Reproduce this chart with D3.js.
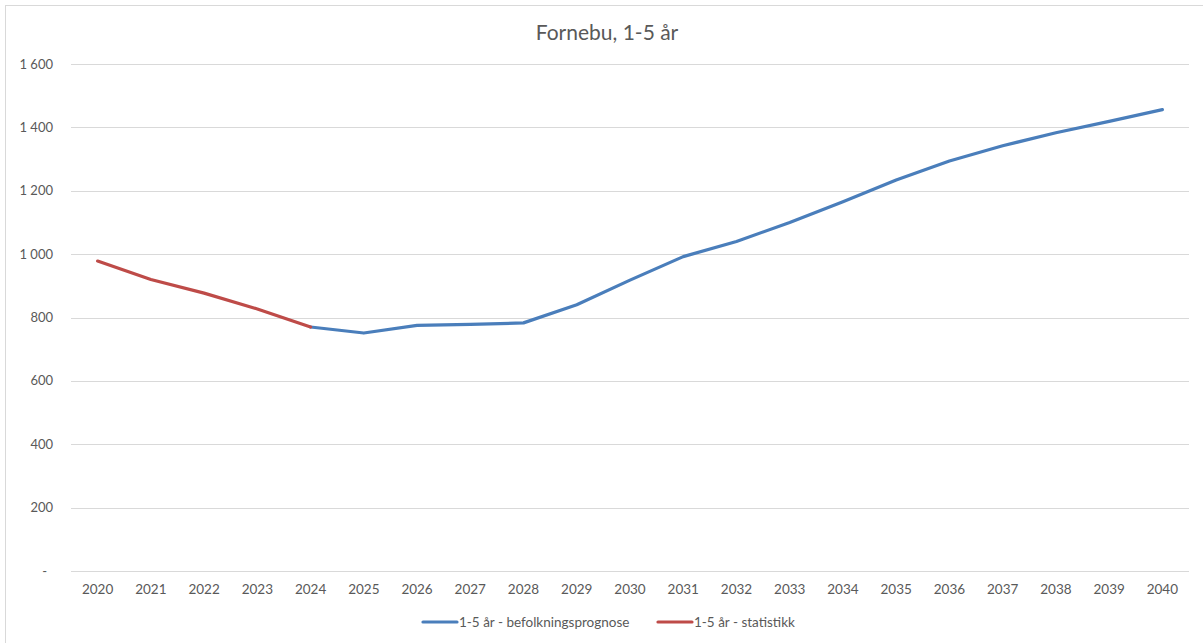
<!DOCTYPE html>
<html>
<head>
<meta charset="utf-8">
<script src="https://cdn.jsdelivr.net/npm/d3@7"></script>
<style>
  body { margin: 0; background: #fff; }
  svg text { font-family: Lato, "Open Sans", sans-serif; fill: #595959; }
</style>
</head>
<body>
<div id="chart"></div>
<script>
// categories (years)
var years = ["2020","2021","2022","2023","2024","2025","2026","2027","2028","2029","2030",
             "2031","2032","2033","2034","2035","2036","2037","2038","2039","2040"];
// prognosis series (blue), starts at 2024
var prognose = [null,null,null,null,770,751,775,778,783,840,918,
                992,1040,1100,1165,1234,1294,1342,1383,1419,1456];
// statistics series (red), 2020-2024
var statistikk = [978,920,877,827,770,null,null,null,null,null,null,
                  null,null,null,null,null,null,null,null,null,null];
var yTicks = [0,200,400,600,800,1000,1200,1400,1600];
var seriesNames = ["1-5 år - befolkningsprognose", "1-5 år - statistikk"];
var seriesColors = ["#4A7EBB", "#BE4B48"];

var W = 1203, H = 643;
var plot = { left: 71, right: 1189, top: 64, bottom: 571 };

var svg = d3.select("#chart").append("svg")
    .attr("width", W).attr("height", H);

// chart frame
svg.append("rect")
    .attr("x", 5.5).attr("y", 5.5)
    .attr("width", W + 10).attr("height", H + 10)
    .attr("fill", "none").attr("stroke", "#d9d9d9");

var x = d3.scaleBand().domain(years).range([plot.left, plot.right]);
var y = d3.scaleLinear().domain([0, 1600]).range([plot.bottom, plot.top]);

// gridlines
svg.append("g").selectAll("line")
    .data(yTicks)
    .enter().append("line")
    .attr("x1", plot.left).attr("x2", plot.right)
    .attr("y1", function(d){ return Math.round(y(d)) + 0.5; })
    .attr("y2", function(d){ return Math.round(y(d)) + 0.5; })
    .attr("stroke", "#d9d9d9").attr("stroke-width", 1);

// y labels
var fmt = function(d){
    if (d === 0) return "-";
    return d3.format(",")(d).replace(",", "\u00a0");
};
svg.append("g").selectAll("text")
    .data(yTicks)
    .enter().append("text")
    .attr("x", function(d){ return d === 0 ? 47 : 53; })
    .attr("y", function(d){ return y(d) + 4.5; })
    .attr("text-anchor", "end")
    .attr("font-size", "13px")
    .text(fmt);

// x labels
svg.append("g").selectAll("text")
    .data(years)
    .enter().append("text")
    .attr("x", function(d){ return x(d) + x.bandwidth() / 2; })
    .attr("y", 594)
    .attr("text-anchor", "middle")
    .attr("font-size", "13.5px")
    .text(function(d){ return d; });

// lines
var line = d3.line()
    .defined(function(d){ return d.v !== null; })
    .x(function(d){ return x(d.year) + x.bandwidth() / 2; })
    .y(function(d){ return y(d.v); });

[prognose, statistikk].forEach(function(series, i){
    var data = years.map(function(yr, j){ return { year: yr, v: series[j] }; });
    svg.append("path")
        .datum(data)
        .attr("d", line)
        .attr("fill", "none")
        .attr("stroke", seriesColors[i])
        .attr("stroke-width", 3.2)
        .attr("stroke-linecap", "round")
        .attr("stroke-linejoin", "round");
});

// title
svg.append("text")
    .attr("x", 607).attr("y", 40)
    .attr("text-anchor", "middle")
    .attr("font-size", "21px")
    .text("Fornebu, 1-5 år");

// legend
var legendX = [423, 658];
seriesNames.forEach(function(name, i){
    var g = svg.append("g").attr("transform", "translate(" + legendX[i] + ",622)");
    g.append("line")
        .attr("x1", 0).attr("x2", 34)
        .attr("stroke", seriesColors[i]).attr("stroke-width", 3.2)
        .attr("stroke-linecap", "round");
    g.append("text")
        .attr("x", 36).attr("y", 5)
        .attr("font-size", "13.5px")
        .text(name);
});
</script>
</body>
</html>
